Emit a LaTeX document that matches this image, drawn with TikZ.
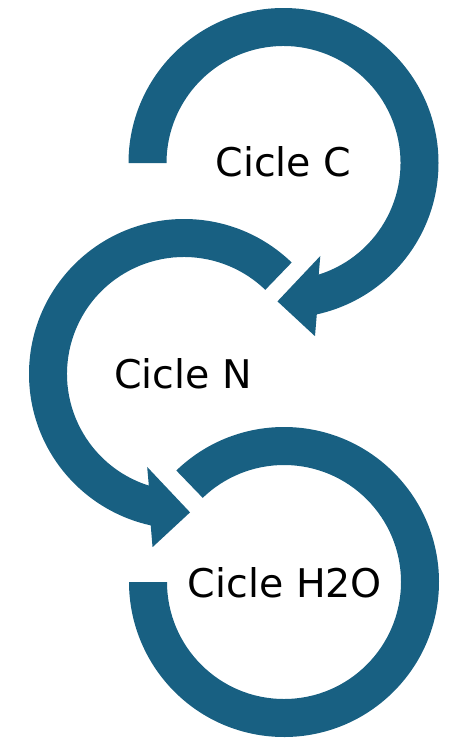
\documentclass[tikz,border=0pt]{standalone}
\usepackage{fontspec}
\setmainfont{DejaVu Sans}
\usepackage{tikz}
\usetikzlibrary{calc}
\definecolor{cycleblue}{RGB}{24,96,130}
\tikzset{
  cyclearrow/.style={fill=cycleblue, draw=none},
  cyclelabel/.style={anchor=base, inner sep=0pt, font=\fontsize{39.5}{47}\selectfont}
}

\begin{document}
\begin{tikzpicture}[x=1pt, y=1pt]
  \useasboundingbox (0,0) rectangle (450,-747);
  \coordinate (cC) at (283.5,-163);
  \coordinate (cN) at (184,-374);
  \coordinate (cW) at (284,-582);
  % carbon cycle
  \fill[cyclearrow] ($(cC)+(180:155)$) arc[start angle=180, end angle=-77.6, radius=155]
    -- ($(cC)+(-79.7:176)$) -- ($(cC)+(-92.5:138.5)$) -- ($(cC)+(-68.4:100)$)
    -- ($(cC)+(-72.5:117)$) arc[start angle=-72.5, end angle=180, radius=117] -- cycle;
  % nitrogen cycle
  \fill[cyclearrow] ($(cN)+(46:155)$) arc[start angle=46, end angle=257.6, radius=155]
    -- ($(cN)+(259.7:176)$) -- ($(cN)+(272.5:138.5)$) -- ($(cN)+(248.4:100)$)
    -- ($(cN)+(252.5:117)$) arc[start angle=252.5, end angle=46, radius=117] -- cycle;
  % water cycle
  \fill[cyclearrow] ($(cW)+(134:155)$) arc[start angle=134, end angle=-180, radius=155]
    -- ($(cW)+(180:117)$) arc[start angle=-180, end angle=134, radius=117] -- cycle;
  % labels
  \node[cyclelabel] (tC) at (283.5,-176.7) {Cicle C};
  \node[cyclelabel] (tN) at (183,-388.3) {Cicle N};
  \node[cyclelabel] (tW) at (285,-597.7) {Cicle H2O};
\end{tikzpicture}
\end{document}
